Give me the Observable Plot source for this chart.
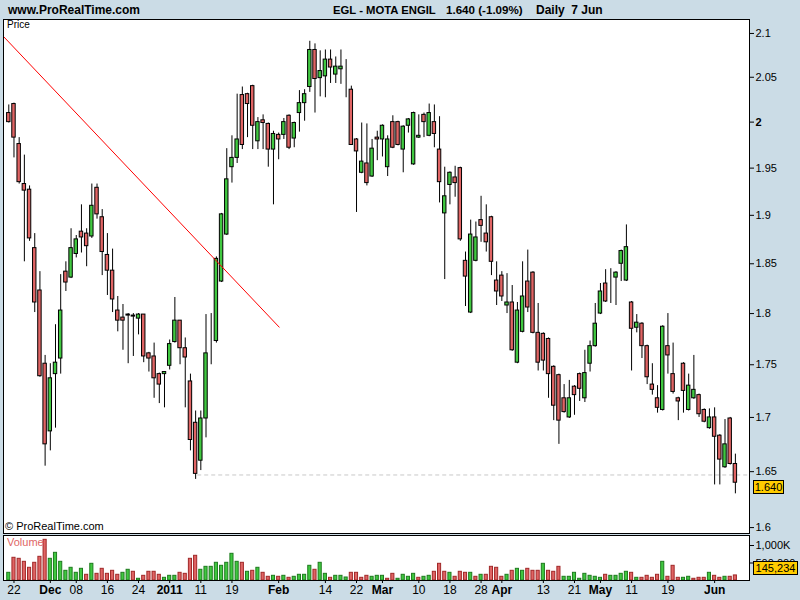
<!DOCTYPE html>
<html><head><meta charset="utf-8">
<script src="https://cdn.jsdelivr.net/npm/d3@7"></script>
<script src="https://cdn.jsdelivr.net/npm/@observablehq/plot@0.6"></script>
<style>
body{margin:0;}
#root{position:relative;width:800px;height:600px;background:#cbdce6;overflow:hidden;font-family:"Liberation Sans",Arial,sans-serif;color:#000;}
.abs{position:absolute;white-space:pre;}
.hdr{font-weight:bold;font-size:12px;top:3px;line-height:14px;}
.ybox{position:absolute;background:#ffcc00;border:1px solid #000;font-size:11px;line-height:12px;text-align:center;box-sizing:border-box;}
#price,#volume{position:absolute;left:0;}
</style></head><body>
<div id="root">
  <div id="price" style="top:0"></div>
  <div id="volume" style="top:535px"></div>
  <div class="abs hdr" style="left:8px">www.ProRealTime.com</div>
  <div class="abs hdr" style="left:333px;font-size:11.3px">EGL - MOTA ENGIL</div>
  <div class="abs hdr" style="left:446px;font-size:11.6px">1.640 (-1.09%)</div>
  <div class="abs hdr" style="left:536px">Daily  7 Jun</div>
  <div class="abs" style="left:7px;top:19px;font-size:10px;">Price</div>
  <div class="abs" style="left:5px;top:520px;font-size:11px;">© ProRealTime.com</div>
  <div class="abs" style="left:7px;top:536px;font-size:11px;color:#e06666;">Volume</div>
  <div class="ybox" style="left:753px;top:480px;width:31px;height:14px;">1.640</div>
  <div class="ybox" style="left:753px;top:561px;width:45px;height:14px;">145,234</div>
</div>
<script>
// ---- data (one entry per trading day, 19 Nov 2010 .. 7 Jun 2011) ----
const opens = [2.010,2.020,1.976,1.933,1.927,1.866,1.823,1.751,1.687,1.741,
1.756,1.842,1.836,1.860,1.883,1.881,1.878,1.929,1.898,1.859,
1.843,1.803,1.796,1.799,1.798,1.795,1.799,1.761,1.758,1.741,
1.741,1.749,1.772,1.793,1.766,1.734,1.695,1.660,1.699,1.790,
1.773,1.832,1.880,1.951,1.961,2.030,2.031,2.040,1.979,2.002,
1.998,1.970,1.986,1.986,2.007,1.982,2.010,2.021,2.039,2.081,
2.049,2.051,2.070,2.053,2.059,2.060,2.036,1.981,1.945,1.955,
1.941,1.983,1.981,1.951,2.000,2.000,1.970,1.996,1.954,1.983,
2.008,1.985,2.000,1.970,1.902,1.932,1.940,1.950,1.853,1.801,
1.853,1.895,1.881,1.898,1.833,1.838,1.808,1.811,1.752,1.782,
1.832,1.841,1.781,1.780,1.775,1.748,1.740,1.718,1.700,1.729,
1.741,1.718,1.751,1.768,1.800,1.830,1.812,1.836,1.850,1.833,
1.811,1.786,1.790,1.768,1.731,1.718,1.707,1.768,1.741,1.718,
1.751,1.707,1.718,1.721,1.707,1.690,1.700,1.683,1.654,1.699,
1.657];
const highs = [2.019,2.021,1.983,1.964,1.931,1.881,1.842,1.759,1.751,1.789,
1.839,1.852,1.886,1.879,1.911,1.886,1.933,1.933,1.906,1.881,
1.865,1.817,1.809,1.800,1.800,1.800,1.799,1.762,1.771,1.742,
1.743,1.774,1.816,1.793,1.776,1.741,1.706,1.706,1.799,1.800,
1.857,1.902,1.971,1.985,2.031,2.039,2.032,2.041,2.005,2.008,
1.999,1.990,1.988,2.004,2.008,2.000,2.035,2.036,2.091,2.088,
2.080,2.081,2.081,2.073,2.081,2.070,2.040,1.982,1.999,1.998,
1.981,1.990,1.997,1.985,2.007,2.001,1.996,2.004,2.011,2.008,
2.010,2.020,2.019,2.006,1.951,1.946,1.952,1.951,1.862,1.895,
1.893,1.920,1.911,1.899,1.852,1.842,1.840,1.828,1.811,1.852,
1.864,1.842,1.810,1.781,1.776,1.749,1.741,1.731,1.735,1.730,
1.742,1.764,1.773,1.810,1.830,1.844,1.845,1.842,1.864,1.890,
1.812,1.799,1.791,1.769,1.751,1.730,1.788,1.800,1.771,1.719,
1.752,1.741,1.759,1.722,1.708,1.708,1.709,1.684,1.698,1.700,
1.666];
const lows = [1.999,1.961,1.933,1.852,1.873,1.801,1.738,1.655,1.669,1.690,
1.741,1.822,1.835,1.856,1.861,1.847,1.876,1.896,1.838,1.818,
1.801,1.782,1.764,1.751,1.758,1.779,1.752,1.743,1.718,1.713,
1.709,1.745,1.771,1.750,1.709,1.669,1.643,1.651,1.681,1.750,
1.771,1.831,1.879,1.934,1.955,1.970,1.983,1.970,1.970,1.970,
1.951,1.911,1.959,1.981,1.970,1.972,1.989,2.001,2.033,2.010,
2.028,2.027,2.043,2.043,2.042,2.027,1.975,1.903,1.944,1.931,
1.940,1.958,1.962,1.941,1.971,1.974,1.945,1.988,1.953,1.982,
1.983,1.984,1.972,1.913,1.834,1.911,1.919,1.873,1.807,1.800,
1.852,1.872,1.862,1.838,1.808,1.812,1.800,1.763,1.751,1.781,
1.801,1.780,1.744,1.744,1.718,1.697,1.675,1.704,1.699,1.702,
1.715,1.714,1.743,1.767,1.799,1.811,1.810,1.808,1.832,1.832,
1.744,1.781,1.756,1.731,1.721,1.704,1.706,1.741,1.722,1.697,
1.704,1.706,1.717,1.700,1.695,1.689,1.638,1.638,1.653,1.656,
1.630];
const closes = [2.000,1.983,1.935,1.926,1.876,1.811,1.739,1.675,1.737,1.752,
1.803,1.831,1.866,1.875,1.877,1.868,1.910,1.901,1.862,1.843,
1.814,1.793,1.793,1.798,1.797,1.799,1.758,1.756,1.737,1.731,
1.743,1.770,1.793,1.766,1.757,1.679,1.648,1.699,1.761,1.790,
1.855,1.901,1.938,1.961,1.981,1.975,2.020,1.996,2.000,1.999,
1.970,1.987,1.981,2.000,1.972,1.999,2.021,2.031,2.081,2.048,
2.057,2.070,2.061,2.062,2.062,2.060,1.975,1.968,1.957,1.934,
1.971,1.981,1.996,1.981,1.972,1.975,1.995,2.003,2.010,1.985,
2.000,2.010,1.987,1.935,1.920,1.945,1.934,1.875,1.837,1.880,
1.877,1.889,1.872,1.852,1.822,1.817,1.811,1.764,1.803,1.817,
1.806,1.781,1.752,1.754,1.741,1.711,1.697,1.705,1.718,1.721,
1.727,1.742,1.768,1.790,1.822,1.812,1.812,1.841,1.863,1.867,
1.785,1.791,1.768,1.738,1.726,1.709,1.787,1.759,1.724,1.715,
1.725,1.730,1.726,1.703,1.696,1.700,1.682,1.661,1.675,1.657,
1.640];
// volume in thousands of shares
const volumes = [220,649,620,534,363,506,677,1163,620,791,
534,277,363,220,334,163,477,191,334,191,
277,163,220,306,249,49,134,249,249,163,
77,134,134,220,191,620,706,306,391,391,
506,420,506,763,534,506,249,277,363,220,
106,134,106,134,77,106,163,163,420,306,
506,191,77,134,134,86,220,220,77,134,
106,134,134,49,191,49,163,106,191,77,
106,134,249,477,249,220,106,249,220,220,
106,163,163,391,363,106,163,277,334,277,
334,277,277,477,277,249,391,106,106,220,
49,191,134,106,77,163,134,134,191,249,
220,77,77,134,77,163,534,106,420,77,
77,106,49,77,77,220,134,77,106,106,
145];
// volume bar colour: g = up day, r = down day
const volumeDir = ("grrrrrrrgg"+"gggggrgrrr"+"rrggrgrrrr"+"gggrrrrggg"+"gggggrgrgr"+
  "rgrgrggggr"+"ggrgggrrrr"+"gggrrggggr"+"ggrrrgrrrg"+"rgrrrrgrgg"+
  "rrrgrrrggg"+"gggggrgggg"+"rgrrrrgrrr"+"ggrrrgrrgr"+"r").split("");
const tickIdx    = [1,8,13,19,25,31,37,43,52,61,67,72,79,85,91,95,103,109,114,120,127,136];
const tickLabels = ["22","Dec","08","16","24","2011","11","19","Feb","14","22","Mar","10","18","28","Apr","13","21","May","11","19","Jun"];
const boldLabels = ["Dec","2011","Feb","Mar","Apr","May","Jun"];
const priceTicks = [1.6,1.65,1.7,1.75,1.8,1.85,1.9,1.95,2.0,2.05,2.1];
const volumeTicks = [500,1000];
const volumeTickLabels = ["500,000","1,000K"];
const trendIdx   = [-1.02, 52.1];
const trendPrice = [2.0965, 1.7866];
const supportLevel = 1.647;
const supportFrom = 36.4;

// ---- build ----
const candles = opens.map((o, i) => ({i, o, h: highs[i], l: lows[i], c: closes[i], up: closes[i] >= o}));
const vols = volumes.map((v, i) => ({i, v, up: volumeDir[i] === "g"}));
const trend = trendIdx.map((x, k) => ({x, p: trendPrice[k]}));
const xDomain = [-1.02, 142.72];
const hw = 0.33;
const font = {fontFamily: "Liberation Sans, Arial, sans-serif", fontSize: "11px", background: "transparent", color: "#000", overflow: "visible"};

const price = Plot.plot({
  width: 800, height: 535,
  marginLeft: 3, marginRight: 51, marginTop: 19, marginBottom: 2,
  style: font,
  x: {domain: xDomain, axis: null},
  y: {type: "log", domain: [1.5948, 2.1162], axis: null},
  marks: [
    Plot.frame({fill: "white"}),
    Plot.ruleY([supportLevel], {x1: supportFrom, x2: xDomain[1], stroke: "#c8c8c8", strokeDasharray: "4,3"}),
    Plot.ruleX(candles, {x: "i", y1: "l", y2: "h", stroke: "black", strokeWidth: 1}),
    Plot.rect(candles, {x1: d => d.i - hw, x2: d => d.i + hw, y1: "o", y2: "c",
      fill: d => d.up ? "#40c840" : "#e06464", stroke: "black", strokeWidth: 1}),
    Plot.line(trend, {x: "x", y: "p", stroke: "#ff0000", strokeWidth: 1}),
    Plot.axisY({anchor: "right", ticks: priceTicks, tickFormat: d => String(+d.toFixed(2)),
      tickSize: 4, tickPadding: 2, label: null, fontSize: 11}),
    Plot.frame({stroke: "black"})
  ]
});
price.querySelectorAll("text").forEach(t => { if (t.textContent === "2") t.setAttribute("font-weight", "bold"); });
document.getElementById("price").append(price);

const volume = Plot.plot({
  width: 800, height: 65,
  marginLeft: 3, marginRight: 51, marginTop: 0, marginBottom: 20,
  style: font,
  x: {domain: xDomain, axis: null},
  y: {domain: [0, 1286], axis: null},
  marks: [
    Plot.frame({fill: "white"}),
    Plot.rectY(vols, {x1: d => d.i - 0.3, x2: d => d.i + 0.3, y: "v",
      fill: d => d.up ? "#40c840" : "#e06464", stroke: d => d.up ? "#1e7a1e" : "#a02828", strokeWidth: 1}),
    Plot.axisY({anchor: "right", ticks: volumeTicks, tickFormat: d => volumeTickLabels[volumeTicks.indexOf(d)],
      tickSize: 4, tickPadding: 2, label: null, fontSize: 11}),
    Plot.axisX({ticks: tickIdx, tickFormat: d => tickLabels[tickIdx.indexOf(d)], tickSize: 3, tickPadding: 2, label: null, fontSize: 12}),
    Plot.frame({stroke: "black"})
  ]
});
volume.querySelectorAll("text").forEach(t => { if (boldLabels.includes(t.textContent)) t.setAttribute("font-weight", "bold"); });
document.getElementById("volume").append(volume);
</script>
</body></html>
